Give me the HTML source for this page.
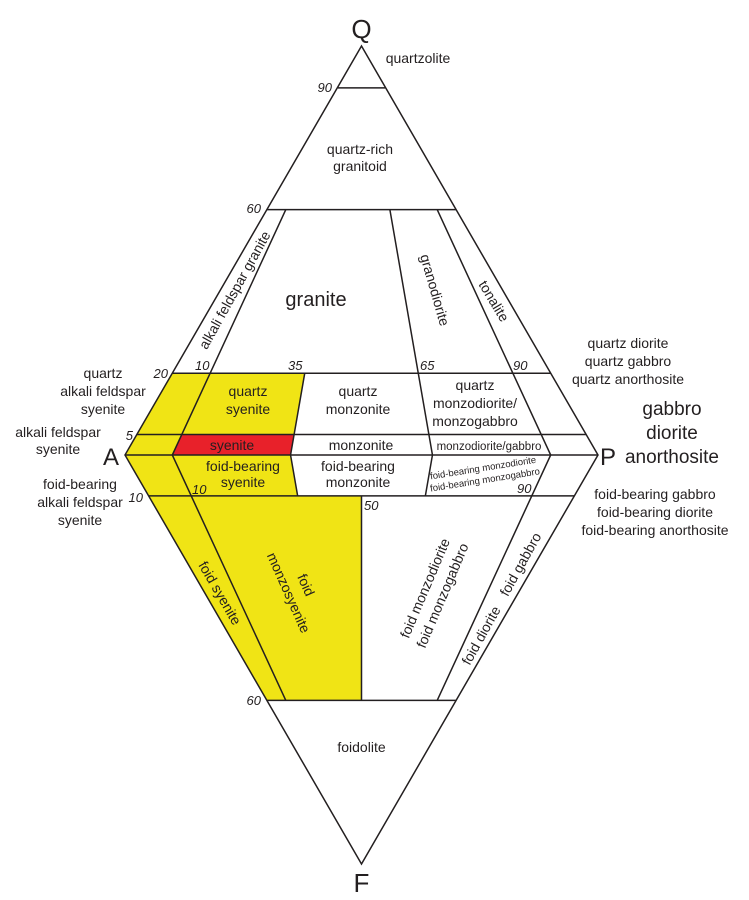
<!DOCTYPE html>
<html>
<head>
<meta charset="utf-8">
<style>
  html, body { margin: 0; padding: 0; background: #ffffff; }
  svg { display: block; }
  text { font-family: "Liberation Sans", sans-serif; fill: #231f20; }
  .n { font-style: italic; font-size: 13px; }
  .t { font-size: 14px; text-anchor: middle; }
</style>
</head>
<body>
<svg width="749" height="900" viewBox="0 0 749 900" xmlns="http://www.w3.org/2000/svg">
  <!-- fills -->
  <polygon points="172.3,373.2 304.74,373.2 290.55,455 297.65,495.9 361.5,495.9 361.5,700.4 266.9,700.4 148.65,495.9 125,455" fill="#f0e415"/>
  <polygon points="181.76,434.55 294.1,434.55 290.55,455 172.3,455" fill="#e8212a"/>

  <g stroke="#231f20" stroke-width="1.5" fill="none" stroke-linejoin="miter">
    <!-- outer diamond -->
    <polygon points="361.5,46 598,455 361.5,864 125,455"/>
    <!-- horizontal lines -->
    <line x1="125" y1="455" x2="598" y2="455"/>
    <line x1="337.85" y1="87.9" x2="385.15" y2="87.9"/>
    <line x1="266.9" y1="209.6" x2="456.1" y2="209.6"/>
    <line x1="172.3" y1="373.2" x2="550.7" y2="373.2"/>
    <line x1="136.8" y1="434.55" x2="586.2" y2="434.55"/>
    <line x1="148.65" y1="495.9" x2="574.35" y2="495.9"/>
    <line x1="266.9" y1="700.4" x2="456.1" y2="700.4"/>
    <!-- radial lines -->
    <polyline points="285.82,209.6 172.3,455 285.82,700.4"/>
    <polyline points="304.74,373.2 290.55,455 297.65,495.9"/>
    <line x1="361.5" y1="495.9" x2="361.5" y2="700.4"/>
    <polyline points="389.88,209.6 432.45,455 425.36,495.9"/>
    <polyline points="437.18,209.6 550.7,455 437.18,700.4"/>
  </g>

  <!-- apex labels -->
  <text x="361.5" y="38" font-size="26" text-anchor="middle">Q</text>
  <text x="111" y="465" font-size="24" text-anchor="middle">A</text>
  <text x="608" y="465" font-size="24" text-anchor="middle">P</text>
  <text x="361.5" y="892" font-size="26" text-anchor="middle">F</text>

  <!-- numbers -->
  <text class="n" x="332" y="92" text-anchor="end">90</text>
  <text class="n" x="261" y="213" text-anchor="end">60</text>
  <text class="n" x="168" y="378" text-anchor="end">20</text>
  <text class="n" x="195" y="370">10</text>
  <text class="n" x="288" y="370">35</text>
  <text class="n" x="420" y="370">65</text>
  <text class="n" x="513" y="370">90</text>
  <text class="n" x="133" y="440" text-anchor="end">5</text>
  <text class="n" x="143" y="502" text-anchor="end">10</text>
  <text class="n" x="192" y="494">10</text>
  <text class="n" x="364" y="510">50</text>
  <text class="n" x="517" y="493">90</text>
  <text class="n" x="261" y="705" text-anchor="end">60</text>

  <!-- top labels -->
  <text class="t" x="418" y="63">quartzolite</text>
  <text class="t" x="360" y="154">quartz-rich</text>
  <text class="t" x="360" y="171">granitoid</text>
  <text x="316" y="306" font-size="20" text-anchor="middle">granite</text>

  <g transform="translate(234.5,290) rotate(-61)">
    <text class="t" x="0" y="5">alkali feldspar granite</text>
  </g>
  <g transform="translate(435,290) rotate(74)">
    <text class="t" x="0" y="5">granodiorite</text>
  </g>
  <g transform="translate(494,301) rotate(59)">
    <text class="t" x="0" y="5">tonalite</text>
  </g>

  <!-- middle band labels -->
  <text class="t" x="248" y="396">quartz</text>
  <text class="t" x="248" y="414">syenite</text>
  <text class="t" x="358" y="396">quartz</text>
  <text class="t" x="358" y="414">monzonite</text>
  <text class="t" x="475" y="390">quartz</text>
  <text class="t" x="475" y="408">monzodiorite/</text>
  <text class="t" x="475" y="426">monzogabbro</text>

  <text class="t" x="232" y="450">syenite</text>
  <text class="t" x="361" y="450">monzonite</text>
  <text x="489" y="450" font-size="11.5" text-anchor="middle">monzodiorite/gabbro</text>

  <text class="t" x="243" y="471">foid-bearing</text>
  <text class="t" x="243" y="487">syenite</text>
  <text class="t" x="358" y="471">foid-bearing</text>
  <text class="t" x="358" y="487">monzonite</text>
  <g transform="translate(484,474) rotate(-9)">
    <text x="0" y="-3" font-size="9.5" text-anchor="middle">foid-bearing monzodiorite</text>
    <text x="0" y="9" font-size="9.5" text-anchor="middle">foid-bearing monzogabbro</text>
  </g>

  <!-- left labels -->
  <text class="t" x="103" y="378">quartz</text>
  <text class="t" x="103" y="396">alkali feldspar</text>
  <text class="t" x="103" y="414">syenite</text>
  <text class="t" x="58" y="437">alkali feldspar</text>
  <text class="t" x="58" y="454">syenite</text>
  <text class="t" x="80" y="489">foid-bearing</text>
  <text class="t" x="80" y="507">alkali feldspar</text>
  <text class="t" x="80" y="525">syenite</text>

  <!-- right labels -->
  <text class="t" x="628" y="348">quartz diorite</text>
  <text class="t" x="628" y="366">quartz gabbro</text>
  <text class="t" x="628" y="384">quartz anorthosite</text>
  <text x="672" y="415" font-size="19" text-anchor="middle">gabbro</text>
  <text x="672" y="439" font-size="19" text-anchor="middle">diorite</text>
  <text x="672" y="463" font-size="19" text-anchor="middle">anorthosite</text>
  <text class="t" x="655" y="499">foid-bearing gabbro</text>
  <text class="t" x="655" y="517">foid-bearing diorite</text>
  <text class="t" x="655" y="535">foid-bearing anorthosite</text>

  <!-- lower labels -->
  <g transform="translate(220,593) rotate(60)">
    <text class="t" x="0" y="5">foid syenite</text>
  </g>
  <g transform="translate(297,589) rotate(66)">
    <text class="t" x="0" y="-5">foid</text>
    <text class="t" x="0" y="14">monzosyenite</text>
  </g>
  <g transform="translate(434,592) rotate(-67)">
    <text class="t" x="0" y="-5">foid monzodiorite</text>
    <text class="t" x="0" y="14">foid monzogabbro</text>
  </g>
  <g transform="translate(500,601) rotate(-61)">
    <text x="-7" y="5" font-size="14" text-anchor="end">foid diorite</text>
    <text x="7" y="5" font-size="14" text-anchor="start">foid gabbro</text>
  </g>
  <text class="t" x="361.5" y="752">foidolite</text>
</svg>
</body>
</html>
